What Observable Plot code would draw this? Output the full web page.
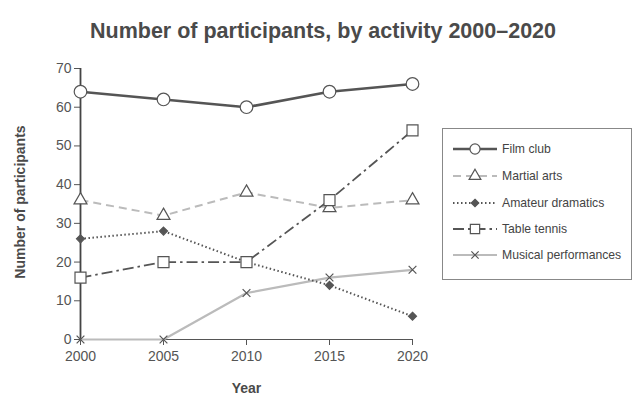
<!DOCTYPE html>
<html><head><meta charset="utf-8">
<script src="https://cdn.jsdelivr.net/npm/d3@7"></script>
<script src="https://cdn.jsdelivr.net/npm/@observablehq/plot@0.6"></script>
<style>
body{margin:0;background:#fff;font-family:"Liberation Sans",Arial,sans-serif;}
#wrap{position:relative;width:640px;height:396px;}
#title{position:absolute;left:0;top:0;width:640px;height:50px;text-align:center;font-weight:bold;font-size:21.5px;color:#4a4a4a;line-height:62px;padding-left:6px;box-sizing:border-box;}
#chart{position:absolute;left:0;top:50px;}
#legend{position:absolute;left:442px;top:128px;width:190px;height:152px;border:1px solid #888;box-sizing:border-box;background:#fff;}
.row{position:absolute;left:8px;height:20px;display:flex;align-items:center;font-size:12.2px;color:#444;}
.row svg{margin-right:3px;}
</style></head>
<body><div id="wrap"><div id="title">Number of participants, by activity 2000–2020</div><div id="chart"></div><div id="legend"></div></div>
<script>
const years = [2000, 2005, 2010, 2015, 2020];
const series = ["Film club", "Martial arts", "Amateur dramatics", "Table tennis", "Musical performances"];
const filmClub = [64, 62, 60, 64, 66];
const martialArts = [36, 32, 38, 34, 36];
const amateurDramatics = [26, 28, 20, 14, 6];
const tableTennis = [16, 20, 20, 36, 54];
const musicalPerformances = [0, 0, 12, 16, 18];
const yTicks = [0, 10, 20, 30, 40, 50, 60, 70];

const values = [filmClub, martialArts, amateurDramatics, tableTennis, musicalPerformances];
const styles = [
  {stroke:"#555", width:2.6, dash:null, symbol:"circle", fill:"#fff", mstroke:"#555", r:6.3},
  {stroke:"#bbb", width:2, dash:"8,5", symbol:"triangle", fill:"#fff", mstroke:"#555", r:4.8},
  {stroke:"#555", width:2, dash:"1.5,2.5", symbol:"diamond2", fill:"#555", mstroke:"#555", r:3.6},
  {stroke:"#555", width:1.8, dash:"11,4,2.5,4", symbol:"square2", fill:"#fff", mstroke:"#555", r:7},
  {stroke:"#bbb", width:2.2, dash:null, symbol:"times", fill:"none", mstroke:"#555", r:3.6}
];
const data = series.flatMap((s, i) => years.map((y, j) => ({series: s, year: y, value: values[i][j], i})));

const marks = [];
const order = [4, 1, 2, 3, 0];
for (const i of order) {
  const st = styles[i];
  const d = data.filter(p => p.i === i);
  marks.push(Plot.line(d, {x: "year", y: "value", stroke: st.stroke, strokeWidth: st.width, strokeDasharray: st.dash, strokeLinecap: "butt"}));
}
for (const i of order) {
  const st = styles[i];
  const d = data.filter(p => p.i === i);
  marks.push(Plot.dot(d, {x: "year", y: "value", symbol: () => st.symbol, r: st.r, fill: st.fill, stroke: st.mstroke, strokeWidth: 1.2}));
}

const chart = Plot.plot({
  width: 640, height: 346,
  marginLeft: 80, marginRight: 228, marginTop: 18, marginBottom: 57,
  style: {fontFamily: "Liberation Sans, Arial, sans-serif", fontSize: "14px", color: "#555", background: "#fff", overflow: "visible"},
  x: {domain: [2000, 2020]},
  y: {domain: [0, 70]},
  marks: [
    Plot.axisY({ticks: yTicks, tickSize: 6, tickPadding: 3, label: null, fontSize: 14, color: "#555", tickFormat: d => d}),
    Plot.axisX({ticks: years, tickSize: 6, tickPadding: 6, label: null, fontSize: 14, color: "#555", tickFormat: d => String(d)}),
    Plot.ruleX([2000], {stroke: "#444", strokeWidth: 1.8}),
    Plot.ruleY([0], {stroke: "#555", strokeWidth: 1.2}),
    ...marks,
    Plot.text(["Number of participants"], {frameAnchor: "left", textAnchor: "middle", dx: -60, dy: -2, rotate: -90, fontWeight: "bold", fontSize: 14, fill: "#4a4a4a"}),
    Plot.text(["Year"], {frameAnchor: "bottom", dy: 53, fontWeight: "bold", fontSize: 14, fill: "#4a4a4a"})
  ]
});
document.getElementById("chart").appendChild(chart);

// legend
const leg = document.getElementById("legend");
const rowY = [10, 37, 64, 90, 116];
const symPath = {
  circle: d3.symbol(d3.symbolCircle, 80)(),
  triangle: d3.symbol(d3.symbolTriangle, 60)(),
  diamond2: d3.symbol(d3.symbolDiamond2, 36)(),
  square2: d3.symbol(d3.symbolSquare2, 110)(),
  times: d3.symbol(d3.symbolTimes, 36)()
};
series.forEach((s, i) => {
  const st = styles[i];
  const row = document.createElement("div");
  row.className = "row";
  row.style.top = rowY[i] + "px";
  row.innerHTML = `<svg width="48" height="20"><line x1="2" x2="46" y1="10" y2="10" stroke="${st.stroke}" stroke-width="${st.width}" ${st.dash ? `stroke-dasharray="${st.dash}"` : ""}/><path transform="translate(24,10)" d="${symPath[st.symbol]}" fill="${st.fill}" stroke="${st.mstroke}" stroke-width="1.2"/></svg><span>${s}</span>`;
  leg.appendChild(row);
});
</script></body></html>
